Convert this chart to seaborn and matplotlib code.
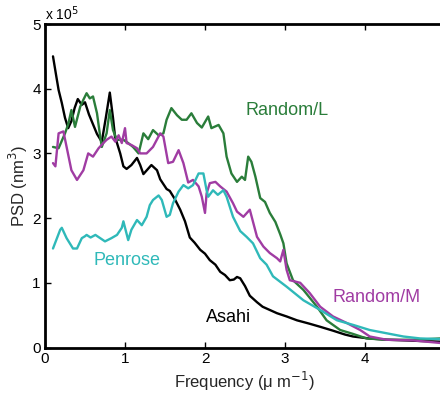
import numpy as np
import pandas as pd
import matplotlib
matplotlib.use("Agg")
import matplotlib.pyplot as plt
from matplotlib.ticker import ScalarFormatter
import seaborn as sns

SCALE = 1e5

freq_asahi = [0.10, 0.14, 0.17, 0.21, 0.25, 0.29, 0.33, 0.37, 0.41, 0.46, 0.50, 0.55, 0.60, 0.65, 0.71,
              0.76, 0.81, 0.85, 0.875, 0.94, 0.98, 1.02, 1.08, 1.15, 1.19, 1.23, 1.33, 1.40, 1.44, 1.52,
              1.56, 1.62, 1.69, 1.75, 1.81, 1.87, 1.94, 2.00, 2.06, 2.13, 2.19, 2.25, 2.31, 2.36, 2.40,
              2.44, 2.50, 2.56, 2.65, 2.72, 2.81, 2.90, 3.02, 3.15, 3.30, 3.44, 3.60, 3.75, 3.85, 4.05,
              4.27, 4.50, 4.70, 4.94]
psd_asahi = [4.50, 4.20, 3.98, 3.78, 3.55, 3.39, 3.50, 3.70, 3.84, 3.75, 3.79, 3.60, 3.45, 3.30, 3.18,
             3.55, 3.94, 3.55, 3.26, 3.00, 2.80, 2.76, 2.82, 2.93, 2.82, 2.68, 2.82, 2.74, 2.60, 2.45,
             2.42, 2.30, 2.13, 1.95, 1.70, 1.62, 1.51, 1.45, 1.35, 1.28, 1.17, 1.12, 1.04, 1.05, 1.09,
             1.07, 0.95, 0.80, 0.70, 0.63, 0.58, 0.53, 0.48, 0.42, 0.37, 0.32, 0.26, 0.20, 0.17, 0.14,
             0.12, 0.11, 0.10, 0.09]

freq_randl = [0.10, 0.17, 0.25, 0.29, 0.33, 0.375, 0.44, 0.48, 0.52, 0.56, 0.60, 0.65, 0.69, 0.71, 0.77,
              0.81, 0.85, 0.90, 0.98, 1.04, 1.10, 1.17, 1.23, 1.29, 1.35, 1.42, 1.48, 1.52, 1.58, 1.65,
              1.71, 1.77, 1.83, 1.90, 1.96, 2.04, 2.08, 2.17, 2.23, 2.27, 2.33, 2.40, 2.46, 2.50, 2.54,
              2.58, 2.63, 2.69, 2.75, 2.81, 2.88, 2.94, 2.98, 3.02, 3.10, 3.23, 3.40, 3.52, 3.69, 3.85,
              4.02, 4.27, 4.65, 4.94]
psd_randl = [3.10, 3.08, 3.31, 3.45, 3.67, 3.41, 3.72, 3.83, 3.93, 3.85, 3.88, 3.62, 3.26, 3.10, 3.31,
             3.67, 3.36, 3.21, 3.21, 3.16, 3.10, 3.00, 3.31, 3.22, 3.36, 3.28, 3.31, 3.52, 3.70, 3.59,
             3.52, 3.52, 3.62, 3.47, 3.40, 3.57, 3.39, 3.44, 3.31, 2.95, 2.69, 2.56, 2.64, 2.59, 2.95,
             2.87, 2.64, 2.31, 2.25, 2.08, 1.94, 1.75, 1.61, 1.30, 1.04, 0.89, 0.63, 0.42, 0.27, 0.21,
             0.14, 0.12, 0.12, 0.14]

freq_randm = [0.10, 0.13, 0.17, 0.23, 0.27, 0.33, 0.40, 0.48, 0.54, 0.60, 0.67, 0.73, 0.77, 0.83, 0.88,
              0.92, 0.96, 1.00, 1.02, 1.08, 1.15, 1.19, 1.27, 1.35, 1.44, 1.48, 1.54, 1.60, 1.67, 1.73,
              1.79, 1.85, 1.92, 1.96, 2.00, 2.02, 2.06, 2.13, 2.19, 2.27, 2.35, 2.40, 2.48, 2.56, 2.65,
              2.73, 2.81, 2.90, 2.94, 2.98, 3.02, 3.06, 3.19, 3.31, 3.44, 3.60, 3.77, 3.94, 4.06, 4.27,
              4.60, 4.94]
psd_randm = [2.85, 2.80, 3.31, 3.34, 3.10, 2.74, 2.59, 2.74, 3.00, 2.95, 3.08, 3.16, 3.21, 3.26, 3.18,
             3.28, 3.16, 3.39, 3.16, 3.13, 3.08, 3.00, 3.00, 3.10, 3.31, 3.26, 2.85, 2.87, 3.05, 2.85,
             2.55, 2.59, 2.49, 2.33, 2.08, 2.38, 2.54, 2.56, 2.49, 2.41, 2.23, 2.10, 2.02, 2.13, 1.71,
             1.56, 1.46, 1.38, 1.33, 1.51, 1.20, 1.04, 1.00, 0.84, 0.63, 0.48, 0.38, 0.27, 0.17, 0.12,
             0.11, 0.07]

freq_penrose = [0.10, 0.19, 0.21, 0.27, 0.35, 0.40, 0.46, 0.50, 0.52, 0.57, 0.63, 0.69, 0.75, 0.83, 0.90,
                0.96, 0.98, 1.04, 1.08, 1.15, 1.21, 1.27, 1.31, 1.35, 1.42, 1.46, 1.52, 1.56, 1.60, 1.67,
                1.73, 1.79, 1.85, 1.92, 1.98, 2.02, 2.04, 2.10, 2.16, 2.23, 2.27, 2.35, 2.44, 2.52, 2.60,
                2.69, 2.77, 2.85, 3.02, 3.23, 3.44, 3.65, 3.85, 4.06, 4.27, 4.48, 4.69, 4.94]
psd_penrose = [1.53, 1.82, 1.85, 1.69, 1.53, 1.53, 1.69, 1.72, 1.74, 1.70, 1.74, 1.69, 1.64, 1.69, 1.74,
               1.85, 1.95, 1.66, 1.82, 1.97, 1.89, 2.02, 2.20, 2.28, 2.35, 2.28, 2.02, 2.05, 2.23, 2.41,
               2.51, 2.46, 2.51, 2.69, 2.69, 2.43, 2.33, 2.43, 2.36, 2.43, 2.33, 2.02, 1.80, 1.71, 1.61,
               1.38, 1.28, 1.10, 0.94, 0.73, 0.58, 0.42, 0.35, 0.27, 0.22, 0.17, 0.14, 0.13]

x_ticks = [0, 1, 2, 3, 4]
y_ticks = [0, 1, 2, 3, 4, 5]

series_names = ["Asahi", "Random/L", "Random/M", "Penrose"]
series_colors = {"Asahi": "#000000", "Random/L": "#2a7d3a",
                 "Random/M": "#a03ca3", "Penrose": "#2fb9b9"}

frames = []
for name, fx, fy in [("Asahi", freq_asahi, psd_asahi), ("Random/L", freq_randl, psd_randl),
                     ("Random/M", freq_randm, psd_randm), ("Penrose", freq_penrose, psd_penrose)]:
    frames.append(pd.DataFrame({"freq": fx, "psd": np.array(fy) * SCALE, "series": name}))
df = pd.concat(frames, ignore_index=True)

sns.set_style("ticks")
plt.rcParams["font.family"] = ["Liberation Sans", "DejaVu Sans"]

fig = plt.figure(figsize=(4.4, 3.95), dpi=100)
ax = fig.add_axes([45 / 440, 47.5 / 395, 400 / 440, 323.5 / 395])

sns.lineplot(data=df, x="freq", y="psd", hue="series", hue_order=series_names,
             palette=series_colors, linewidth=1.7, legend=False, ax=ax,
             estimator=None, sort=False)

ax.set_xlim(0, 5)
ax.set_ylim(0, 5 * SCALE)
ax.set_xticks(x_ticks)
ax.set_xticklabels([str(t) for t in x_ticks])
ax.set_yticks(np.array(y_ticks) * SCALE)


class OffsetFormatter(ScalarFormatter):
    def __call__(self, x, pos=None):
        return "%g" % (x / SCALE)

    def get_offset(self):
        return r"x 10$^5$"


ax.yaxis.set_major_formatter(OffsetFormatter())
ax.yaxis.get_offset_text().set_fontsize(10)

for side in ["left", "bottom", "top", "right"]:
    ax.spines[side].set_visible(True)
    ax.spines[side].set_linewidth(2.0)
    ax.spines[side].set_color("black")

ax.tick_params(direction="in", length=4, width=1, labelsize=11, pad=3,
               top=True, right=False, colors="black")

ax.set_xlabel("Frequency (μ m$^{-1}$)", fontsize=12, labelpad=3)
ax.set_ylabel(r"PSD (nm$^3$)", fontsize=12, labelpad=2)

ax.text(3.02, 3.66 * SCALE, "Random/L", color=series_colors["Random/L"], fontsize=13,
        ha="center", va="center")
ax.text(1.03, 1.34 * SCALE, "Penrose", color=series_colors["Penrose"], fontsize=13,
        ha="center", va="center")
ax.text(2.3, 0.46 * SCALE, "Asahi", color=series_colors["Asahi"], fontsize=13,
        ha="center", va="center")
ax.text(4.15, 0.77 * SCALE, "Random/M", color=series_colors["Random/M"], fontsize=13,
        ha="center", va="center")

fig.savefig("out.png", dpi=100)
